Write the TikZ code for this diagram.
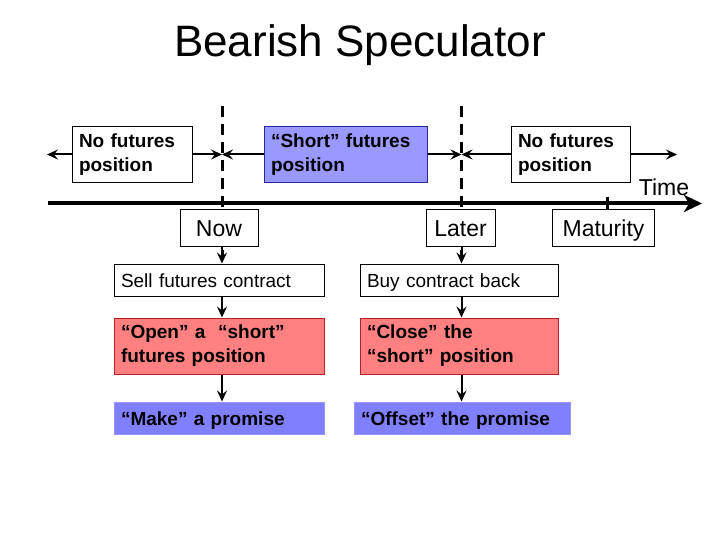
\documentclass[tikz,border=0pt]{standalone}
\usepackage{fontspec}
\setmainfont{Liberation Sans}
\usetikzlibrary{arrows.meta}
\definecolor{shortblue}{RGB}{153,153,255}
\definecolor{shortline}{RGB}{40,40,150}
\definecolor{promblue}{RGB}{128,128,255}
\definecolor{promline}{RGB}{150,150,255}
\definecolor{posred}{RGB}{255,128,128}
\definecolor{redline}{RGB}{190,30,30}
\tikzset{
  tip/.style={-{Stealth[length=11pt,width=10pt,inset=4pt]}},
  posbox/.style={draw, line width=1pt, fill=white, inner xsep=7pt, inner ysep=0pt,
    minimum height=56pt, align=left, text width=#1,
    font=\fontsize{19}{24}\selectfont\bfseries},
  stepbox/.style={draw, line width=1pt, fill=white, inner xsep=7pt, inner ysep=0pt,
    minimum height=32pt, align=left, text width=#1, text height=18pt, text depth=4pt,
    font=\fontsize{19}{24}\selectfont},
  timebox/.style={draw, line width=1pt, fill=white, inner sep=0pt, text height=22.5pt,
    text depth=4.8pt, minimum height=36pt, minimum width=#1, font=\fontsize{23}{26}\selectfont}
}
\begin{document}
\begin{tikzpicture}[x=1pt,y=-1pt]
\useasboundingbox (0,0) rectangle (720,540);
\node (title) at (360,45) {\fontsize{44}{50}\selectfont Bearish Speculator};
% dashed lines for now and later
\coordinate (nowtop) at (222,106);
\coordinate (nowbot) at (222,258);
\coordinate (latertop) at (461.5,106);
\coordinate (laterbot) at (461.5,258);
\draw[line width=3pt, dash pattern=on 11pt off 7pt] (nowtop) -- (nowbot);
\draw[line width=3pt, dash pattern=on 11pt off 7pt] (latertop) -- (laterbot);
% time axis
\coordinate (axisleft) at (48,203.5);
\coordinate (axisright) at (702,203.5);
\draw[line width=4pt, -{Stealth[length=18pt,width=17pt,inset=5pt]}] (axisleft) -- (axisright);
\node[font=\fontsize{23}{26}\selectfont] (time) at (664,187) {Time};
\coordinate (mattick) at (607,197);
% positions
\node[posbox=106pt] (nofut1) at (132,154.5) {No futures\\position};
\node[posbox=149pt, fill=shortblue, draw=shortline] (short) at (345.5,154.5) {“Short” futures\\position};
\node[posbox=105pt] (nofut2) at (570.5,154.5) {No futures\\position};
\coordinate (leftend) at (47,154.5);
\coordinate (rightend) at (677,154.5);
\draw[line width=2pt, tip] (nofut1.west) -- (leftend);
\draw[line width=2pt, tip] (nofut1.east) -- (nofut1.east -| nowtop);
\draw[line width=2pt, tip] (short.west) -- (short.west -| nowtop);
\draw[line width=2pt, tip] (short.east) -- (short.east -| latertop);
\draw[line width=2pt, tip] (nofut2.west) -- (nofut2.west -| latertop);
\draw[line width=2pt, tip] (nofut2.east) -- (rightend);
% points in time
\node[timebox=78pt] (now) at (219,228) {Now};
\node[timebox=69pt] (later) at (460.5,228) {Later};
\node[timebox=102pt] (maturity) at (603.5,228) {Maturity};
\draw[line width=3pt] (mattick) -- (mattick |- maturity.north);
% what is done
\node[stepbox=196pt] (sell) at (219,280) {Sell futures contract};
\node[posbox=196pt, fill=posred, draw=redline] (open) at (219,346) {“Open” a\ \ “short”\\futures position};
\node[stepbox=196pt, fill=promblue, draw=promline] (make) at (219,418) {\bfseries “Make” a promise};
\node[stepbox=184pt] (buy) at (459,280) {Buy contract back};
\node[posbox=184pt, fill=posred, draw=redline] (close) at (459,346) {“Close” the\\“short” position};
\node[stepbox=202pt, fill=promblue, draw=promline] (offset) at (462,418) {\bfseries “Offset” the promise};
\draw[line width=2pt, tip] (nowtop |- now.south) -- (nowtop |- sell.north);
\draw[line width=2pt, tip] (nowtop |- sell.south) -- (nowtop |- open.north);
\draw[line width=2pt, tip] (nowtop |- open.south) -- (nowtop |- make.north);
\draw[line width=2pt, tip] (latertop |- later.south) -- (latertop |- buy.north);
\draw[line width=2pt, tip] (latertop |- buy.south) -- (latertop |- close.north);
\draw[line width=2pt, tip] (latertop |- close.south) -- (latertop |- offset.north);
\end{tikzpicture}
\end{document}
